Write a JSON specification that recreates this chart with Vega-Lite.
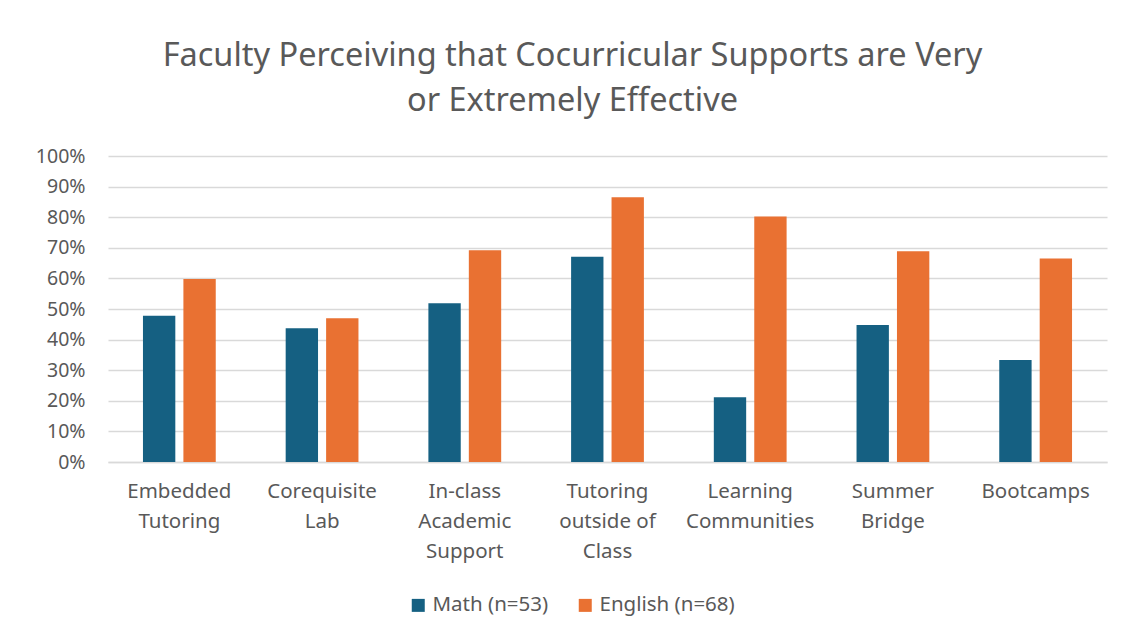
{
  "$schema": "https://vega.github.io/schema/vega-lite/v6.json",
  "autosize": {"type": "none"},
  "padding": {"left": 108, "top": 156, "right": 16, "bottom": 174},
  "width": 999,
  "height": 306,
  "background": "white",
  "config": {"view": {"stroke": null}, "font": "Noto Sans"},
  "title": {
    "text": ["Faculty Perceiving that Cocurricular Supports are Very", "or Extremely Effective"],
    "fontSize": 32.5,
    "fontWeight": "normal",
    "color": "#595959",
    "lineHeight": 45,
    "anchor": "middle",
    "dx": -35,
    "offset": 29,
    "font": "Noto Sans"
  },
  "data": {
    "values": [
      {"support": "Embedded Tutoring", "group": "Math (n=53)", "pct": 0.478},
      {"support": "Embedded Tutoring", "group": "English (n=68)", "pct": 0.598},
      {"support": "Corequisite Lab", "group": "Math (n=53)", "pct": 0.437},
      {"support": "Corequisite Lab", "group": "English (n=68)", "pct": 0.47},
      {"support": "In-class Academic Support", "group": "Math (n=53)", "pct": 0.519},
      {"support": "In-class Academic Support", "group": "English (n=68)", "pct": 0.692},
      {"support": "Tutoring outside of Class", "group": "Math (n=53)", "pct": 0.671},
      {"support": "Tutoring outside of Class", "group": "English (n=68)", "pct": 0.865},
      {"support": "Learning Communities", "group": "Math (n=53)", "pct": 0.212},
      {"support": "Learning Communities", "group": "English (n=68)", "pct": 0.802},
      {"support": "Summer Bridge", "group": "Math (n=53)", "pct": 0.448},
      {"support": "Summer Bridge", "group": "English (n=68)", "pct": 0.689},
      {"support": "Bootcamps", "group": "Math (n=53)", "pct": 0.333},
      {"support": "Bootcamps", "group": "English (n=68)", "pct": 0.665}
    ]
  },
  "mark": {"type": "bar"},
  "encoding": {
    "x": {
      "field": "support",
      "type": "nominal",
      "sort": null,
      "title": null,
      "scale": {"paddingInner": 0.49, "paddingOuter": 0.245},
      "axis": {
        "labelAngle": 0,
        "labelFontSize": 20.5,
        "labelColor": "#595959",
        "labelLineHeight": 30,
        "labelPadding": 19,
        "labelBaseline": "top",
        "labelOverlap": false,
        "ticks": false,
        "domain": true,
        "domainColor": "#d9d9d9",
        "domainWidth": 1.5,
        "labelExpr": "datum.value == 'Tutoring outside of Class' ? ['Tutoring', 'outside of', 'Class'] : split(datum.value, ' ')"
      }
    },
    "xOffset": {
      "field": "group",
      "type": "nominal",
      "sort": ["Math (n=53)", "English (n=68)"],
      "scale": {"paddingInner": 0.2, "paddingOuter": 0}
    },
    "y": {
      "field": "pct",
      "type": "quantitative",
      "title": null,
      "scale": {"domain": [0, 1]},
      "axis": {
        "format": ".0%",
        "values": [0, 0.1, 0.2, 0.3, 0.4, 0.5, 0.6, 0.7, 0.8, 0.9, 1],
        "labelOverlap": false,
        "labelFontSize": 19.5,
        "labelColor": "#595959",
        "labelPadding": 23,
        "ticks": false,
        "domain": false,
        "gridColor": "#d9d9d9",
        "gridWidth": 1.5
      }
    },
    "color": {
      "field": "group",
      "type": "nominal",
      "sort": ["Math (n=53)", "English (n=68)"],
      "scale": {"domain": ["Math (n=53)", "English (n=68)"], "range": ["#156082", "#E97132"]},
      "legend": {
        "title": null,
        "orient": "none",
        "direction": "horizontal",
        "legendX": 300,
        "legendY": 439,
        "symbolType": "square",
        "symbolSize": 169,
        "symbolStrokeWidth": 0,
        "labelFontSize": 20.5,
        "labelColor": "#595959",
        "labelOffset": 4,
        "columnPadding": 26
      }
    }
  }
}
